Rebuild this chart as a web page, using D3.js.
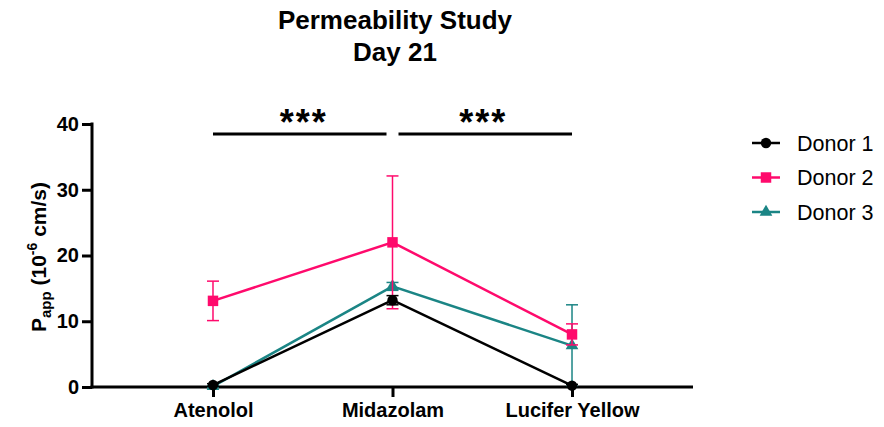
<!DOCTYPE html>
<html>
<head>
<meta charset="utf-8">
<script src="https://cdn.jsdelivr.net/npm/d3@7"></script>
<style>
  body { margin: 0; background: #fff; }
  text { font-family: "Liberation Sans", Arial, sans-serif; }
</style>
</head>
<body>
<div id="chart"></div>
<script>
// data
const compounds = ["Atenolol", "Midazolam", "Lucifer Yellow"];
const donors = ["Donor 1", "Donor 2", "Donor 3"];
const donor1Mean = [0.3, 13.2, 0.2];
const donor1Err = [0.2, 0.7, 0.2];
const donor2Mean = [13.1, 22.0, 8.0];
const donor2Err = [3.0, 10.1, 1.6];
const donor3Mean = [0.1, 15.3, 6.3];
const donor3Err = [0.1, 0.6, 6.2];
const yTicks = [0, 10, 20, 30, 40];
const sigPairs = [["Atenolol", "Midazolam"], ["Midazolam", "Lucifer Yellow"]];
const sigLabels = ["***", "***"];

const width = 884;
const height = 427;

const colors = { "Donor 1": "#000000", "Donor 2": "#ff0a6c", "Donor 3": "#1b8585" };
const shapes = { "Donor 1": d3.symbolCircle, "Donor 2": d3.symbolSquare, "Donor 3": d3.symbolTriangle };
const symSize = { "Donor 1": 85, "Donor 2": 110, "Donor 3": 70 };

const series = [
  { key: "Donor 1", mean: donor1Mean, err: donor1Err },
  { key: "Donor 2", mean: donor2Mean, err: donor2Err },
  { key: "Donor 3", mean: donor3Mean, err: donor3Err }
];

const svg = d3.select("#chart").append("svg")
  .attr("width", width)
  .attr("height", height);

const x = d3.scalePoint()
  .domain(compounds)
  .range([92, 693])
  .padding(0.674);

const y = d3.scaleLinear()
  .domain([0, 40])
  .range([387, 124]);

// title
const title = svg.append("text")
  .attr("text-anchor", "middle")
  .attr("font-weight", "bold")
  .attr("font-size", "26px")
  .attr("fill", "#000");
title.append("tspan").attr("x", 395).attr("y", 29).text("Permeability Study");
title.append("tspan").attr("x", 395).attr("y", 61).text("Day 21");

// y axis
const yAxis = svg.append("g")
  .attr("transform", `translate(${x.range()[0]},0)`)
  .call(d3.axisLeft(y).tickValues(yTicks).tickSize(10).tickPadding(3).tickSizeOuter(0));
yAxis.select(".domain").attr("stroke", "#000").attr("stroke-width", 3)
  .attr("d", `M0,${y(0) + 1.5}V${y(40) - 1.5}`);
yAxis.selectAll(".tick line").attr("stroke", "#000").attr("stroke-width", 3);
yAxis.selectAll(".tick text")
  .attr("font-size", "20px")
  .attr("font-weight", "bold")
  .attr("font-family", "Liberation Sans, Arial, sans-serif")
  .attr("fill", "#000");

// x axis
const xAxis = svg.append("g")
  .attr("transform", `translate(0,${y(0)})`)
  .call(d3.axisBottom(x).tickSize(10).tickPadding(6).tickSizeOuter(0));
xAxis.select(".domain").attr("stroke", "#000").attr("stroke-width", 3)
  .attr("d", `M${x.range()[0] - 1.5},0H${x.range()[1]}`);
xAxis.selectAll(".tick line").attr("stroke", "#000").attr("stroke-width", 3);
xAxis.selectAll(".tick text")
  .attr("font-size", "20px")
  .attr("font-weight", "bold")
  .attr("font-family", "Liberation Sans, Arial, sans-serif")
  .attr("fill", "#000");

// y axis title
const yLabel = svg.append("text")
  .attr("transform", "translate(46,257) rotate(-90)")
  .attr("text-anchor", "middle")
  .attr("font-weight", "bold")
  .attr("font-size", "21px")
  .attr("fill", "#000");
yLabel.append("tspan").text("P");
yLabel.append("tspan").attr("font-size", "15px").attr("dy", 5).text("app");
yLabel.append("tspan").attr("dy", -5).text(" (10");
yLabel.append("tspan").attr("font-size", "14px").attr("dy", -9).text("-6");
yLabel.append("tspan").attr("dy", 9).text(" cm/s)");

// significance bars
sigPairs.forEach((p, i) => {
  const x1 = x(p[0]) + (i === 0 ? 0 : 6);
  const x2 = x(p[1]) - (i === 0 ? 6 : 0);
  svg.append("line")
    .attr("x1", x1).attr("x2", x2)
    .attr("y1", 134).attr("y2", 134)
    .attr("stroke", "#000").attr("stroke-width", 3);
  svg.append("text")
    .attr("x", (x(p[0]) + x(p[1])) / 2 + 1)
    .attr("y", 135)
    .attr("text-anchor", "middle")
    .attr("font-weight", "bold")
    .attr("font-size", "36px")
    .attr("letter-spacing", "2px")
    .attr("fill", "#000")
    .text(sigLabels[i]);
});

// series, drawn back to front
const line = d3.line()
  .x((d, i) => x(compounds[i]))
  .y(d => y(d));

[series[2], series[1], series[0]].forEach(s => {
  const g = svg.append("g");
  const c = colors[s.key];

  // error bars
  s.mean.forEach((m, i) => {
    const cx = x(compounds[i]);
    const lo = Math.max(0, m - s.err[i]);
    const hi = m + s.err[i];
    g.append("line")
      .attr("x1", cx).attr("x2", cx)
      .attr("y1", y(lo)).attr("y2", y(hi))
      .attr("stroke", c).attr("stroke-width", 1.5);
    [lo, hi].forEach(v => {
      g.append("line")
        .attr("x1", cx - 6).attr("x2", cx + 6)
        .attr("y1", y(v)).attr("y2", y(v))
        .attr("stroke", c).attr("stroke-width", 1.5);
    });
  });

  g.append("path")
    .datum(s.mean)
    .attr("d", line)
    .attr("fill", "none")
    .attr("stroke", c)
    .attr("stroke-width", 2.5);

  g.selectAll("path.marker")
    .data(s.mean)
    .enter()
    .append("path")
    .attr("class", "marker")
    .attr("d", d3.symbol().type(shapes[s.key]).size(symSize[s.key]))
    .attr("transform", (d, i) => `translate(${x(compounds[i])},${y(d)})`)
    .attr("fill", c);
});

// legend
const legend = svg.append("g").attr("transform", "translate(752,143)");
donors.forEach((d, i) => {
  const row = legend.append("g").attr("transform", `translate(0,${i * 34.5})`);
  row.append("line")
    .attr("x1", 0).attr("x2", 28)
    .attr("y1", 0).attr("y2", 0)
    .attr("stroke", colors[d]).attr("stroke-width", 2.5);
  row.append("path")
    .attr("d", d3.symbol().type(shapes[d]).size(symSize[d]))
    .attr("transform", "translate(14,0)")
    .attr("fill", colors[d]);
  row.append("text")
    .attr("x", 45)
    .attr("y", 7.5)
    .attr("font-size", "21.5px")
    .attr("fill", "#000")
    .text(d);
});
</script>
</body>
</html>
